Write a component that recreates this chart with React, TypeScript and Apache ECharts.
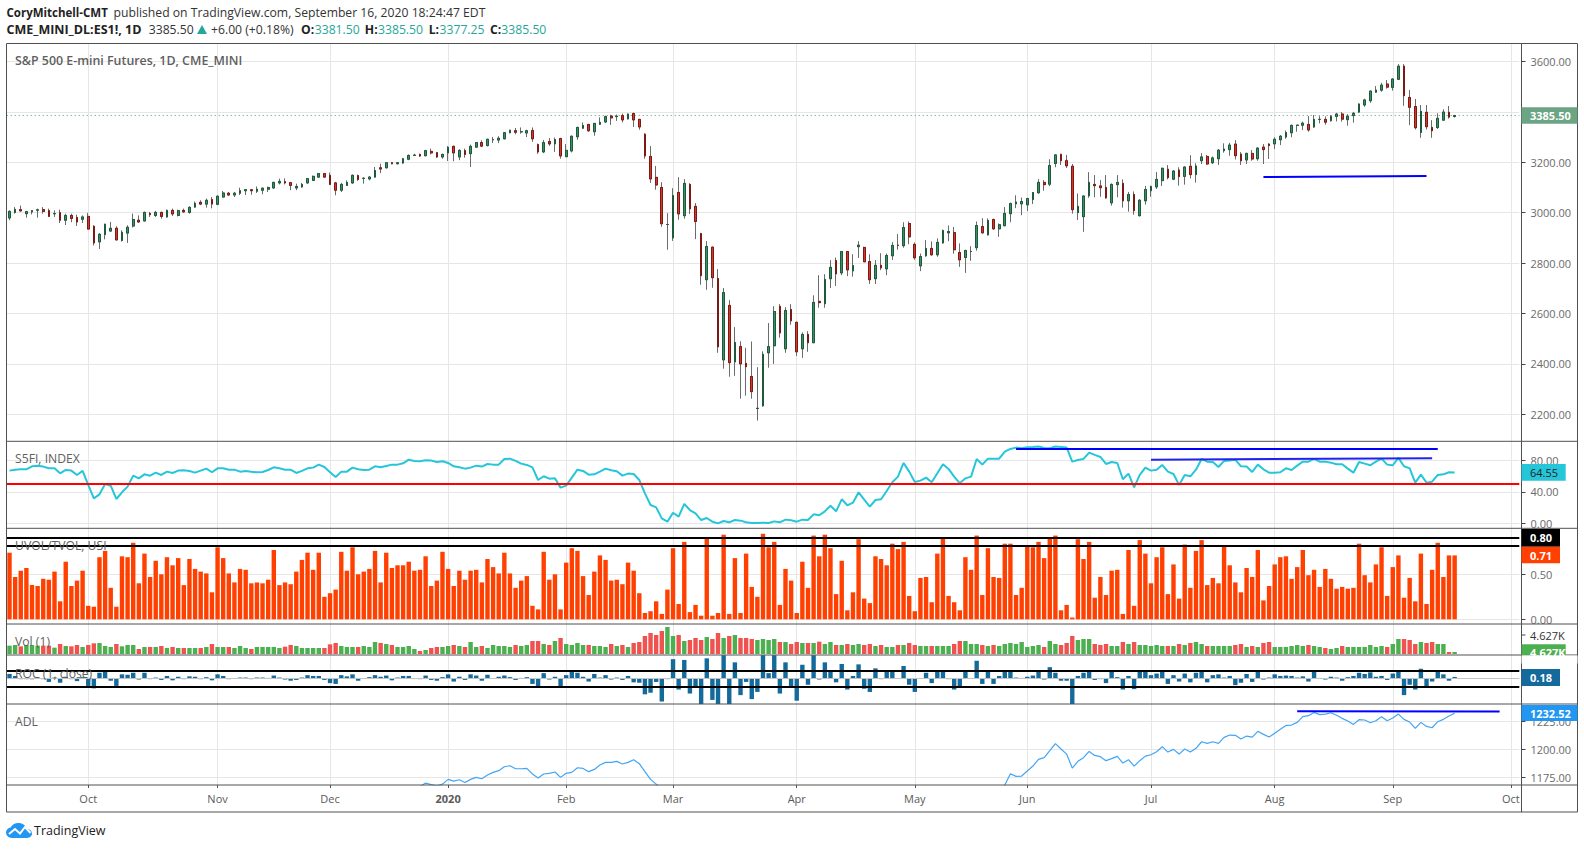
import React, { useEffect, useRef } from "react";
import * as echarts from "echarts";

const SLOTS = 269;
const monthIdx = [14, 37, 57, 78, 99, 118, 140, 161, 181, 203, 225, 246, 267];
const monthTxt = ["Oct", "Nov", "Dec", "2020", "Feb", "Mar", "Apr", "May", "Jun", "Jul", "Aug", "Sep", "Oct"];

const opens = [
2979,3001,3012,2996,3003,3010,3012,3008,2996,3000,2970,2989,2981,2974,2985,2946,2884,2913,2927,2938,
2890,2919,2947,2970,2967,2997,2989,3001,2983,3009,2989,3009,3001,3022,3041,3034,3052,3033,3062,3077,
3070,3077,3087,3091,3085,3089,3093,3098,3118,3123,3119,3098,3102,3118,3128,3141,3155,3148,3118,3089,
3108,3118,3147,3136,3134,3141,3178,3178,3198,3194,3197,3212,3227,3231,3226,3243,3238,3221,3237,3263,
3221,3246,3234,3260,3278,3266,3289,3288,3293,3317,3325,3321,3316,
3326,3270,3241,3282,3273,3294,3222,3245,3301,3335,
3350,3321,3351,3360,3383,3381,3385,3372,3393,3370,
3311,3223,3140,3100,2953,2900,3080,2988,3112,3025,
2917,2734,2863,2739,2416,2632,2408,2469,2402,2350,
2223,2234,2444,2472,2628,2460,2616,2565,2460,2517,
2484,2648,2639,2738,2810,2761,2846,2769,2865,2862,
2806,2738,2791,2777,2829,2871,2869,2957,2874,2789,
2829,2858,2833,2880,2920,2921,2842,2822,2846,2861,
2945,2912,2973,2936,2948,2996,3035,3035,3031,3052,
3079,3120,3113,
3195,3231,3206,3184,3000,2984,3067,3112,3106,3100,
3039,3111,3116,3047,3072,2988,3047,3087,3102,3127,
3172,3133,3169,3144,3184,3151,3206,3223,3198,3214,
3246,3250,3272,3232,3209,3235,3214,3260,3272,3273,
3289,3300,3317,3346,3347,3350,3340,3370,3370,3365,
3382,3391,3369,3385,3399,3427,3444,3478,3486,3510,
3497,3529,3581,3457,3421,3318,3398,3338,3338,3367,
3398,3381.5];
const closes = [
3005,3013,3007,3004,3008,3011,3005,2985,2996,2970,2989,2977,2963,2983,2935,2880,2914,2954,2938,2892,
2922,2942,2973,2963,3001,2992,3001,2985,3009,2995,3008,3003,3021,3037,3034,3049,3034,3065,3078,3070,
3077,3087,3091,3087,3093,3097,3100,3120,3124,3118,3108,3104,3112,3135,3144,3155,3141,3112,3089,3112,
3120,3148,3132,3136,3141,3167,3173,3198,3194,3198,3214,3227,3228,3225,3246,3237,3221,3231,3259,3237,
3247,3231,3263,3278,3264,3291,3290,3295,3317,3327,3319,3321,3325,
3293,3241,3278,3273,3290,3225,3247,3303,3338,3346,
3325,3354,3358,3381,3376,3382,3368,3391,3368,3340,
3225,3134,3110,2956,2953,3068,2995,3116,3015,2965,
2750,2866,2742,2468,2683,2405,2485,2400,2389,2290,
2224,2438,2469,2608,2523,2612,2571,2448,2517,2484,
2644,2643,2735,2783,2757,2846,2773,2790,2871,2805,
2734,2791,2781,2830,2870,2870,2941,2904,2821,2826,
2858,2833,2882,2929,2925,2853,2813,2850,2846,2949,
2920,2969,2936,2952,2997,3036,3042,3044,3056,3080,
3120,3111,3187,
3229,3206,3186,3012,3025,3066,3120,3107,3099,3059,
3112,3120,3047,3072,3008,3049,3092,3104,3132,3176,
3139,3165,3143,3181,3151,3185,3221,3193,3217,3248,
3252,3268,3226,3206,3235,3213,3256,3250,3266,3291,
3303,3318,3346,3347,3355,3328,3370,3370,3359,3382,
3391,3371,3383,3394,3431,3447,3482,3486,3506,3498,
3530,3581,3464,3418,3337,3402,3341,3325,3374,3399,
3379,3385.5];
const highs = [
3009,3022,3028,3007,3009,3016,3022,3016,3009,3012,2996,2996,2992,2989,2999,2950,2919,2956,2963,2946,
2930,2950,2996,2989,3004,3003,3007,3004,3012,3016,3012,3016,3025,3044,3049,3056,3062,3069,3086,3082,
3082,3099,3094,3094,3104,3099,3103,3123,3135,3136,3122,3115,3118,3137,3147,3157,3157,3159,3122,3118,
3128,3151,3151,3141,3145,3181,3194,3201,3201,3201,3217,3231,3234,3234,3249,3254,3241,3234,3264,3266,
3251,3254,3270,3280,3287,3293,3300,3303,3320,3329,3336,3338,3329,
3338,3274,3288,3296,3298,3297,3272,3306,3341,3358,
3352,3356,3378,3385,3388,3389,3393,3393,3397,3372,
3315,3264,3185,3121,2998,3097,3141,3133,3117,3038,
2920,2887,2866,2776,2701,2653,2546,2490,2464,2489,
2387,2450,2562,2629,2637,2625,2637,2567,2525,2530,
2672,2752,2756,2812,2822,2846,2846,2835,2887,2865,
2835,2812,2839,2838,2883,2915,2962,2965,2882,2838,
2891,2886,2898,2933,2949,2943,2878,2853,2867,2965,
2978,2977,2976,2957,3022,3040,3069,3060,3059,3080,
3133,3129,3212,
3231,3234,3229,3193,3076,3069,3161,3149,3129,3149,
3116,3149,3132,3082,3084,3054,3106,3107,3161,3178,
3189,3169,3180,3184,3228,3196,3236,3229,3223,3252,
3275,3277,3288,3240,3238,3248,3259,3272,3275,3299,
3308,3326,3350,3348,3361,3383,3387,3383,3382,3387,
3396,3399,3391,3400,3433,3452,3485,3502,3515,3526,
3533,3589,3589,3486,3451,3427,3427,3367,3394,3410,
3423,3385.5];
const lows = [
2970,2996,3004,2980,2993,2980,2996,2983,2983,2959,2951,2962,2947,2959,2933,2870,2856,2894,2925,2890,
2885,2880,2941,2960,2966,2983,2983,2976,2980,2987,2985,3000,2996,3020,3030,3020,3017,3030,3060,3067,
3062,3070,3070,3071,3078,3073,3082,3095,3112,3112,3089,3089,3099,3115,3126,3139,3139,3110,3069,3082,
3106,3115,3126,3115,3128,3139,3157,3175,3192,3192,3194,3208,3225,3221,3223,3231,3217,3214,3205,3204,
3208,3218,3181,3258,3260,3263,3276,3276,3291,3315,3311,3313,3300,
3281,3233,3236,3265,3241,3214,3222,3239,3289,3333,
3321,3305,3348,3355,3348,3364,3358,3370,3340,3329,
3214,3118,3091,2944,2853,2888,2972,2976,2995,2895,
2714,2694,2702,2444,2381,2349,2353,2262,2274,2262,
2175,2230,2385,2400,2504,2444,2555,2431,2424,2448,
2484,2623,2623,2701,2709,2752,2748,2746,2820,2805,
2717,2717,2772,2752,2812,2853,2861,2875,2813,2768,
2825,2829,2825,2878,2887,2837,2785,2761,2809,2849,
2917,2909,2932,2904,2948,2962,3018,2990,3006,3034,
3075,3087,3105,
3180,3189,3177,2996,2971,2924,3059,3061,3063,3055,
3028,3061,3020,3004,2992,2985,3032,3063,3094,3106,
3132,3129,3107,3111,3136,3119,3193,3190,3193,3189,
3238,3226,3211,3189,3193,3206,3206,3193,3213,3252,
3268,3293,3299,3321,3328,3321,3336,3354,3349,3361,
3362,3361,3345,3357,3396,3420,3436,3476,3480,3492,
3484,3526,3424,3347,3330,3297,3330,3297,3332,3365,
3373,3377.25];

const s5fi = [
66.9,68.1,68.6,68.6,72.4,73.2,72,69.8,69.8,63.5,
67.7,66.9,61.4,66.5,48.7,31.7,36.8,49.9,47.8,30.9,
39.4,46.6,60.5,57.1,62.2,60.5,64.3,61.4,65.6,63.9,
66.9,67.3,66.5,64.3,66.9,69.4,64.8,69.8,69.8,68.1,
68.1,65.6,66.5,65.6,64.8,65.2,67.7,71.1,69.8,68.1,
68.1,63.9,66.5,69.8,70.7,74.5,71.5,64.8,58.8,65.6,
65.6,70.7,68.6,67.7,68.1,72.4,71.1,72.8,74.5,74.5,
76.2,80.8,79.2,78.7,80,79.6,77.9,78.7,76.6,72.4,
71.1,69.4,70.7,73.2,72,75.3,74.5,74.5,81.7,82.1,
79.2,75.8,74.1,71.1,55,59.7,56.7,57.1,45.3,47.8,
58,68.1,66.5,61.8,62.2,65.6,69.4,67.3,66,60.5,
63.1,62.6,55,38.1,23.3,20.3,6.3,2.1,13.5,8.5,
24.6,16.9,12.7,4.2,6.8,2.1,0,3,1.3,4.2,
3.4,1.3,0.4,0.4,0.8,0.4,2.5,1.3,4.7,3.8,
2.1,4.7,4.2,11.4,10.2,15.2,22.4,15.2,30.5,22.9,
26.2,39.4,30.1,21.2,29.6,30.5,41.1,52.1,59.3,76.6,
65.6,52.5,54.2,58,52.1,63.5,74.9,69,59.3,50.8,
57.1,59.3,81.7,74.5,82.1,82.1,82.1,91,94.4,96.1,
95.2,96.5,96.9,97.4,95.7,95.2,97.4,96.9,96.1,78.3,
80.4,81.7,89.7,86.8,84.2,75.3,77.9,76.6,55.9,63.1,
45.7,61.4,70.7,66.9,68.1,74.1,65.6,62.6,48.7,61.4,
59.7,68.1,81.7,78.3,77.9,71.5,79.2,79.6,80.8,72.4,
72,65.2,74.5,68.6,64.3,64.3,64.8,69.8,67.7,73.2,
78.3,78.3,81.7,78.3,78.3,77,74.9,74.9,69.4,64.3,
77.9,75.8,73.7,78.3,82.1,74.5,73.7,83,72.4,69.8,
51.6,61.8,51.6,52.9,61.4,62.2,64.8,64.55];

const uvol = [
.74,.47,.54,.57,.38,.37,.45,.44,.53,.2,.64,.37,.43,.54,.15,.14,.69,.76,.35,.14,
.7,.69,.85,.4,.73,.47,.65,.5,.69,.6,.68,.38,.67,.56,.53,.51,.3,.8,.68,.51,
.41,.56,.55,.4,.41,.4,.44,.77,.38,.41,.39,.53,.66,.74,.55,.74,.25,.29,.33,.75,
.54,.8,.5,.53,.56,.76,.41,.74,.57,.6,.6,.64,.54,.55,.7,.37,.43,.75,.56,.37,
.54,.44,.54,.55,.41,.67,.58,.51,.74,.51,.35,.43,.48,
.15,.11,.75,.44,.5,.11,.63,.79,.76,.48,
.27,.53,.71,.66,.43,.44,.39,.63,.54,.29,
.07,.09,.2,.06,.33,.79,.17,.86,.08,.16,
.04,.9,.04,.07,.94,.06,.68,.07,.73,.36,
.25,.95,.8,.86,.16,.56,.43,.07,.64,.35,
.93,.7,.94,.79,.28,.65,.1,.3,.89,.23,
.18,.7,.67,.6,.84,.78,.86,.26,.09,.46,
.47,.19,.73,.91,.26,.19,.1,.69,.55,.93,
.27,.79,.47,.46,.84,.84,.27,.35,.81,.8,
.86,.68,.9,
.93,.1,.16,.02,.89,.67,.86,.24,.47,.27,
.54,.55,.06,.77,.15,.88,.73,.4,.69,.8,
.28,.61,.23,.83,.35,.76,.88,.38,.46,.4,
.81,.6,.41,.3,.57,.47,.77,.21,.37,.61,
.69,.7,.45,.58,.77,.49,.55,.36,.56,.45,
.34,.36,.34,.35,.84,.49,.41,.61,.8,.26,
.58,.71,.24,.46,.2,.73,.17,.55,.85,.47,
.71,.71];

const volume = [
25,27,23,27,27,25,25,25,19,30,24,23,27,21,27,32,33,24,21,30,
23,27,27,15,21,21,21,24,18,21,18,18,18,18,18,21,30,21,21,21,
18,24,18,15,21,21,21,21,18,22,27,24,18,18,18,18,18,29,33,24,
21,21,21,24,21,36,33,30,27,21,21,24,15,9,12,18,21,21,24,27,
24,21,36,21,24,18,27,24,24,21,27,24,27,
39,39,30,27,39,48,30,27,33,27,
27,24,24,21,30,24,27,21,33,36,
54,63,57,69,81,54,57,39,42,48,
42,51,45,63,48,54,57,48,48,45,
42,45,42,45,36,36,30,36,33,33,
33,37,30,36,27,27,30,27,30,27,
30,24,27,21,21,27,27,33,27,24,
24,24,24,24,24,30,39,39,30,30,
27,24,27,24,30,33,30,36,21,24,
27,21,39,
30,27,33,54,42,45,45,30,27,30,
24,24,36,30,36,27,27,24,27,24,
24,24,30,27,33,36,30,24,24,24,
24,24,27,30,21,24,21,33,36,21,
21,21,24,27,24,27,24,21,18,15,
18,24,21,21,21,21,27,21,24,21,
30,45,45,42,30,36,33,36,30,30,
6,6];

const roc = [
.55,.3,-.1,-.1,-.1,.1,-.1,-.45,.1,-.55,
.2,-.1,-.35,.15,-.95,-1.25,.7,.85,-.3,-.95,
.5,.45,.7,-.15,.7,-.1,.1,-.2,.3,-.25,
.2,-.1,.25,.2,-.1,.15,-.25,.5,.3,-.1,
-.05,.1,.1,-.1,.1,.1,.05,.35,.1,-.15,
-.3,-.2,.1,.4,.3,.3,-.2,-.6,-.7,.4,
.25,.5,-.3,-.05,.15,.4,.2,.35,-.25,.1,
.3,.3,-.05,-.1,.35,-.2,-.3,.15,.5,-.4,
.2,-.2,.5,.35,-.3,.45,-.05,.2,.35,.15,
-.2,.05,.15,-.7,-1,.65,-.15,.2,-1.2,.4,
1,.7,.2,-.4,.55,.1,.4,-.15,.1,-.2,
.3,-.5,-.55,-2,-1.8,-.45,-2.9,-.1,2.4,-1.4,
2.3,-1.9,-1,-3.25,2.5,-2.7,-3.25,2.9,-3.25,2,
-2.1,-.45,-2.6,-1.7,2.9,.65,2.9,-1.9,2,-1.05,
-2.8,1.7,-.8,2.9,-.15,2,1,-.5,1.8,-1.4,
.3,1.75,-1.3,-1.7,1.25,-.1,1,1,-.05,1.55,
-.8,-1.7,-.05,.7,-.6,1,1,-.1,-1.4,-1,
.8,.05,2.2,-.7,1,-.7,.3,.9,.85,.1,
.05,.2,.35,.85,-.15,1.4,.7,-.3,-.3,-3.25,
.3,.7,.85,-.2,-.1,-.6,1,.15,-1.4,.3,
-1.35,.85,.85,.4,.6,.9,-.7,.4,-.4,.6,
-.5,.7,.8,-.5,.4,.5,.1,.3,-.85,-.55,
.55,-.45,.95,-.15,.1,.5,.3,.35,.3,.1,
.25,-.4,.9,.05,-.15,.2,.1,-.3,.15,.3,
.7,.55,.75,.2,.3,-.2,.6,1,-2.1,-.8,
-1.4,1.2,-1.05,-.4,.95,.5,-.3,.18];

const adlFirstBlock = [
1165.2,1167,1170.2,1168.8,1167.6,1169.3,1173.5,1172,1173.2,1170.8,1173.5,1175.3,1174.1,1177.4,1179.8,
1181.3,1184.8,1185.7,1183,1183,1183.3,1178.3,1174.7,1178.3,1178.9,1180.1,1175.3,1178.9,1179.8,1183.9,
1183.3,1180.4,1182.4,1186.3,1188.7,1188.7,1189.6,1187.2,1188.7,1191.1,1187.5,1180.4,1173.5,1169.3,1164];
const adlSecondBlock = [
1162,1168.5,1178.6,1176.2,1176.5,1181,1185.4,1191.4,1192.9,1199.1,1205.4,1200.6,1196.1,1183.6,1189.6,
1192.9,1198.5,1194.9,1193.8,1190.2,1192,1194,1188.1,1191.1,1185.4,1190.2,1194.3,1195.5,1198.2,1202.7,
1197.9,1200.3,1196.1,1200.6,1197.9,1201.2,1207.1,1205.7,1207.1,1205.7,1211,1213.1,1212.8,1209.5,1212.2,
1211.3,1216.4,1213.7,1211.3,1214.6,1218.2,1221.7,1222,1224.4,1229.5,1230.4,1233.3,1231.3,1231.8,1233,
1230.7,1228,1225.6,1222.6,1226.8,1226.5,1224.1,1225.9,1229.5,1225.9,1228.3,1231.8,1227.1,1224.7,1219,
1224.4,1220.8,1219.6,1225,1227.1,1230.1,1232.52];
const ADL_FIRST_K = 72;
const ADL_SECOND_K = 176;

const lastPrice = 3385.5;
const s5fiLevel = 50;
const uvolBands = [0.914, 0.818];
const rocBands = [0.96, -1.04];

const mainGrid = [2200, 2400, 2600, 2800, 3000, 3200, 3400, 3600];
const mainLabels = [2200, 2400, 2600, 2800, 3000, 3200, 3600];
const s5fiTicks = [0, 40, 80];
const uvolTicks = [0, 0.5];
const adlTicks = [1175, 1200, 1225];

const trendMain = [[223, 3141], [252, 3145]];
const trendS5a = [[179, 94.3], [254, 94.3]];
const trendS5b = [[203, 80.8], [253, 82.5]];
const trendAdl = [[229, 1234.4], [265, 1234.2]];

const FONT = "Open Sans";
const GRID_LEFT = 6.7;
const GRID_W = 1512.6;
const AXIS_X = 1521.5;
const RIGHT_X = 1577.5;

const panes = [
  { top: 43.5, bottom: 441.3, min: 2093, max: 3671 },
  { top: 441.3, bottom: 528.3, min: -6.3, max: 104.1 },
  { top: 528.3, bottom: 624, min: -0.052, max: 1.011 },
  { top: 624, bottom: 655, min: -3, max: 90 },
  { top: 655, bottom: 704, min: -3.21, max: 2.92 },
  { top: 704, bottom: 785, min: 1168.5, max: 1240.8 },
];

echarts.graphic.registerShape(
  "tvcloud",
  echarts.graphic.extendPath(
    "M6 15 C2.5 15 0 12.6 0 9.6 C0 7 2 5 4.6 4.6 C5.8 1.9 8.8 0 12.5 0 C16.5 0 20 2.5 20.8 5.8 C23.8 6.2 26 8 26 10.6 C26 13 24 15 21 15 Z",
    {}
  )
);

function buildOption() {
  const categories = Array.from({ length: SLOTS }, (_, i) => {
    const m = monthIdx.indexOf(i);
    return m >= 0 ? monthTxt[m] : String(i);
  });
  const n = opens.length;
  const wick = opens.map((o, i) => [o, closes[i], lows[i], highs[i]]);
  const body = opens.map((o, i) => [o, closes[i], Math.min(o, closes[i]), Math.max(o, closes[i])]);
  const adl: (number | null)[] = Array.from({ length: n }, () => null);
  adlFirstBlock.forEach((v, i) => { adl[ADL_FIRST_K + i] = v; });
  adlSecondBlock.forEach((v, i) => { adl[ADL_SECOND_K + i] = v; });

  const gridSets = [mainGrid, s5fiTicks, uvolTicks, [], [], adlTicks];
  const labelSets = [mainLabels, s5fiTicks, uvolTicks, [], [], adlTicks];

  const grid = panes.map((p) => ({
    left: GRID_LEFT, width: GRID_W, top: p.top, height: p.bottom - p.top, containLabel: false,
  }));

  const xAxis = panes.map((_, i) => ({
    type: "category", gridIndex: i, data: categories, boundaryGap: true,
    axisLine: { show: false },
    axisTick: i === 5
      ? { show: true, alignWithLabel: true, length: 3, lineStyle: { color: "#555" },
          interval: (idx: number) => monthIdx.includes(idx) }
      : { show: false },
    splitLine: { show: false },
    axisLabel: i === 5
      ? { show: true, interval: (idx: number) => monthIdx.includes(idx), margin: 8,
          color: "#5a5a5a", fontFamily: FONT, fontSize: 11,
          formatter: (v: string) => (v === "2020" ? "{b|2020}" : v),
          rich: { b: { fontWeight: "bold", color: "#5a5a5a", fontFamily: FONT, fontSize: 11 } } }
      : { show: false },
  }));

  const yAxis = panes.map((p, i) => ({
    type: "value", gridIndex: i, position: "right", offset: 2.2,
    min: p.min, max: p.max, scale: true,
    splitLine: { show: false },
    axisLine: { show: false },
    axisTick: gridSets[i].length
      ? { show: true, length: 4, lineStyle: { color: "#444" }, customValues: gridSets[i] }
      : { show: false },
    axisLabel: labelSets[i].length
      ? { show: true, customValues: labelSets[i], margin: 9, color: "#6a6a6a", fontFamily: FONT, fontSize: 11,
          padding: [0, 0, 5, 0], formatter: (v: number) => v.toFixed(2) }
      : { show: false },
  }));

  const gridlineSeries = panes.map((_, i) => ({
    type: "line", xAxisIndex: i, yAxisIndex: i, data: [], z: 0, silent: true,
    markLine: {
      silent: true, symbol: ["none", "none"], animation: false, label: { show: false },
      lineStyle: { color: "#e6e6e6", width: 1, type: "solid" }, z: 0,
      data: [
        ...monthIdx.map((k) => ({ xAxis: k })),
        ...gridSets[i].map((v) => ({ yAxis: v })),
      ],
    },
  }));

  const seg = (pts: number[][], color: string, width: number) => [
    { coord: pts[0], lineStyle: { color, width, type: "solid" } },
    { coord: pts[1] },
  ];
  const flat = (vals: number[], color: string, width: number) =>
    vals.map((v) => ({ yAxis: v, lineStyle: { color, width, type: "solid" } }));

  const markBase = { silent: true, symbol: ["none", "none"], animation: false, label: { show: false } };

  const series: any[] = [
    ...gridlineSeries,
    {
      type: "candlestick", name: "wick", xAxisIndex: 0, yAxisIndex: 0, data: wick, barWidth: 2.2, z: 3, silent: true,
      itemStyle: { color: "#6b6b6b", color0: "#6b6b6b", borderColor: "#6b6b6b", borderColor0: "#6b6b6b", borderColorDoji: "#6b6b6b", borderWidth: 1 },
    },
    {
      type: "candlestick", name: "ES1!", xAxisIndex: 0, yAxisIndex: 0, data: body, barWidth: 2.2, z: 4, silent: true,
      itemStyle: { color: "#3b8f66", color0: "#d5382a", borderColor: "#1d5a3c", borderColor0: "#7a1a12", borderColorDoji: "#1d5a3c", borderWidth: 1 },
      markLine: {
        ...markBase, z: 2,
        data: [{ yAxis: lastPrice, lineStyle: { color: "#4f9a7c", width: 1, type: [1, 3] } }, seg(trendMain, "#0000ff", 2)],
      },
    },
    {
      type: "line", name: "S5FI", xAxisIndex: 1, yAxisIndex: 1, data: s5fi, showSymbol: false, z: 3, silent: true,
      lineStyle: { color: "#26c6da", width: 2 },
      markLine: {
        ...markBase, z: 4,
        data: [
          ...flat([s5fiLevel], "#ff0000", 2),
          seg(trendS5a, "#0000ff", 2),
          seg(trendS5b, "#2020f0", 2),
        ],
      },
    },
    {
      type: "bar", name: "UVOL/TVOL", xAxisIndex: 2, yAxisIndex: 2, data: uvol, barWidth: 4.4, z: 3, silent: true,
      itemStyle: { color: "#ff4000" },
      markLine: { ...markBase, z: 4, data: flat(uvolBands, "#000000", 2) },
    },
    {
      type: "bar", name: "Vol", xAxisIndex: 3, yAxisIndex: 3, barWidth: 4.4, z: 3, silent: true,
      data: volume.map((v, i) => ({
        value: v,
        itemStyle: { color: closes[i] >= opens[i] ? "#4caf50" : "#ef5350" },
      })),
    },
    {
      type: "bar", name: "ROC", xAxisIndex: 4, yAxisIndex: 4, data: roc, barWidth: 4.4, z: 3, silent: true,
      itemStyle: { color: "#156a9c" },
      markLine: { ...markBase, z: 4, data: [...flat(rocBands, "#000000", 2), ...flat([0], "#c4c4c4", 1)] },
    },
    {
      type: "line", name: "ADL", xAxisIndex: 5, yAxisIndex: 5, data: adl, showSymbol: false, connectNulls: false, z: 3, silent: true,
      lineStyle: { color: "#42a5f5", width: 1.2 },
      markLine: { ...markBase, z: 4, data: [seg(trendAdl, "#0000ff", 2)] },
    },
  ];

  const txt = (x: number, y: number, text: string, fill: string, extra: any = {}) => ({
    type: "text", x, y, z: 100, silent: true,
    style: { text, fill, fontFamily: FONT, fontSize: 12.2, textVerticalAlign: "middle", verticalAlign: "middle", ...extra },
  });
  const line = (x1: number, y1: number, x2: number, y2: number, color = "#505050") => ({
    type: "line", z: 90, silent: true, shape: { x1, y1, x2, y2 }, style: { stroke: color, lineWidth: 1 },
  });
  const tag = (y0: number, y1: number, x1: number, fill: string) => ({
    type: "rect", z: 95, silent: true, shape: { x: AXIS_X, y: y0, width: x1 - AXIS_X, height: y1 - y0 }, style: { fill },
  });
  const LEG = "#5f5f5f";
  const TEAL = "#26a69a";
  const TAGTXT = { fontSize: 11, fontWeight: "bold" };
  const graphic: any[] = [
    txt(6.5, 12.5, "CoryMitchell-CMT", "#222", { fontWeight: "bold", fontSize: 11.5 }),
    txt(113.5, 12.5, "published on TradingView.com, September 16, 2020 18:24:47 EDT", "#333"),
    txt(6.5, 29.5, "CME_MINI_DL:ES1!, 1D", "#222", { fontWeight: "bold", fontSize: 12.5 }),
    txt(148.7, 29.5, "3385.50", "#333"),
    { type: "polygon", z: 100, silent: true, shape: { points: [[197, 34], [207, 34], [202, 25]] }, style: { fill: TEAL } },
    txt(211, 29.5, "+6.00 (+0.18%)", "#333"),
    txt(301, 29.5, "O:", "#222", { fontWeight: "bold" }),
    txt(314.7, 29.5, "3381.50", TEAL),
    txt(364.8, 29.5, "H:", "#222", { fontWeight: "bold" }),
    txt(378, 29.5, "3385.50", TEAL),
    txt(428.7, 29.5, "L:", "#222", { fontWeight: "bold" }),
    txt(439.5, 29.5, "3377.25", TEAL),
    txt(490, 29.5, "C:", "#222", { fontWeight: "bold" }),
    txt(501.3, 29.5, "3385.50", TEAL),

    txt(15, 60.5, "S&P 500 E-mini Futures, 1D, CME_MINI", LEG, { fontWeight: "600", fontSize: 12.4 }),
    txt(15, 458.5, "S5FI, INDEX", LEG),
    txt(15, 545.5, "UVOL/TVOL, USI", LEG),
    txt(15, 641.5, "Vol (1)", LEG),
    txt(15, 673, "ROC (1, close)", LEG),
    txt(15, 721.5, "ADL", LEG),

    tag(107.3, 123.7, RIGHT_X, "#6ba583"),
    txt(1530, 115.7, "3385.50", "#fff", TAGTXT),
    tag(464, 480.7, 1565.7, "#26c6da"),
    txt(1530, 472.3, "64.55", "#222", { fontSize: 11 }),
    tag(529, 546.7, 1560, "#000000"),
    txt(1530, 537.7, "0.80", "#fff", TAGTXT),
    tag(546.7, 563.3, 1560, "#ff4000"),
    txt(1530, 555, "0.71", "#fff", TAGTXT),
    txt(1530, 635, "4.627K", "#333", { fontSize: 11 }),
    { ...line(AXIS_X, 635, AXIS_X + 4, 635, "#444") },
    tag(644.3, 655, 1565.7, "#4caf50"),
    txt(1530, 652, "4.627K", "#fff", TAGTXT),
    { type: "rect", z: 96, silent: true, shape: { x: AXIS_X, y: 655.5, width: RIGHT_X - AXIS_X, height: 8 }, style: { fill: "#fff" } },
    tag(669, 686, 1560, "#156a9c"),
    txt(1530, 677.5, "0.18", "#fff", TAGTXT),
    tag(705, 721, RIGHT_X, "#2196f3"),
    txt(1530, 713, "1232.52", "#fff", TAGTXT),

    { type: "rect", z: 90, silent: true, shape: { x: 6.5, y: 43.5, width: RIGHT_X - 6.5, height: 812 - 43.5 }, style: { fill: "none", stroke: "#505050", lineWidth: 1 } },
    line(AXIS_X, 43.5, AXIS_X, 812),
    ...panes.map((p) => line(6.5, p.bottom, RIGHT_X, p.bottom)),

    { type: "tvcloud", x: 6, y: 823, z: 100, silent: true, style: { fill: "#2196f3" } },
    { type: "polyline", x: 6, y: 823, z: 101, silent: true, shape: { points: [[3, 11], [9, 6], [14, 10.5], [19, 4], [24.5, 10]] }, style: { stroke: "#fff", lineWidth: 2, fill: "none" } },
    txt(34, 830.5, "TradingView", "#222", { fontSize: 12.5 }),
  ];

  return { animation: false, backgroundColor: "#ffffff", grid, xAxis, yAxis, series, graphic };
}

export default function App() {
  const ref = useRef<HTMLDivElement>(null);
  useEffect(() => {
    if (!ref.current) return;
    const chart = echarts.init(ref.current, undefined, { renderer: "svg" });
    chart.setOption(buildOption() as any);
    return () => chart.dispose();
  }, []);
  return (
    <div
      ref={ref}
      style={{ position: "absolute", left: 0, top: 0, width: 1584, height: 849 }}
    />
  );
}
